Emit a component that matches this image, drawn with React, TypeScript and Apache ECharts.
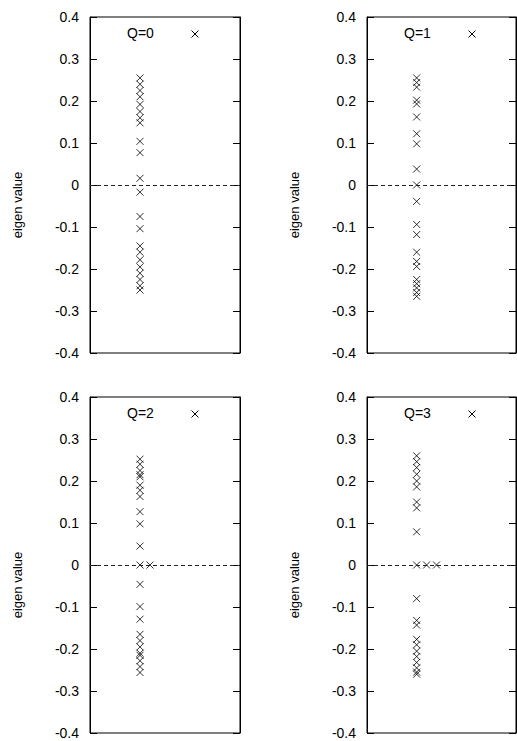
import React, { useEffect, useRef } from "react";
import * as echarts from "echarts";

// Eigenvalue spectra for each charge sector Q; [x, eigenvalue] pairs.
// Degenerate zero modes are spread sideways so each one stays visible.
const q0Points: [number, number][] = [
  [1, 0.255], [1, 0.24], [1, 0.225], [1, 0.21], [1, 0.192], [1, 0.175], [1, 0.16], [1, 0.148],
  [1, 0.104], [1, 0.077], [1, 0.016], [1, -0.017], [1, -0.075], [1, -0.104],
  [1, -0.145], [1, -0.16], [1, -0.178], [1, -0.195], [1, -0.21], [1, -0.225], [1, -0.24], [1, -0.25],
];
const q1Points: [number, number][] = [
  [1, 0.255], [1, 0.244], [1, 0.233], [1, 0.202], [1, 0.193], [1, 0.162], [1, 0.122], [1, 0.098],
  [1, 0.038], [1, 0], [1, -0.039], [1, -0.094], [1, -0.118], [1, -0.16], [1, -0.182], [1, -0.194],
  [1, -0.225], [1, -0.235], [1, -0.245], [1, -0.256], [1, -0.265],
];
const q2Points: [number, number][] = [
  [1, 0.252], [1, 0.24], [1, 0.225], [1, 0.215], [1, 0.21], [1, 0.19], [1, 0.178], [1, 0.163],
  [1, 0.127], [1, 0.098], [1, 0.045], [1, 0], [1.2, 0], [1, -0.046], [1, -0.099], [1, -0.129],
  [1, -0.165], [1, -0.18], [1, -0.195], [1, -0.21], [1, -0.215], [1, -0.228], [1, -0.242], [1, -0.256],
];
const q3Points: [number, number][] = [
  [1, 0.26], [1, 0.246], [1, 0.232], [1, 0.216], [1, 0.2], [1, 0.186],
  [1, 0.15], [1, 0.136], [1, 0.079], [1, 0], [1.2, 0], [1.4, 0], [1, -0.08],
  [1, -0.132], [1, -0.143], [1, -0.177], [1, -0.19], [1, -0.205], [1, -0.218], [1, -0.232],
  [1, -0.245], [1, -0.255], [1, -0.26],
];

const sectorNames = ["Q=0", "Q=1", "Q=2", "Q=3"];
const sectorData = [q0Points, q1Points, q2Points, q3Points];
const yTicks = { min: -0.4, max: 0.4, interval: 0.1 };

const FONT = "Liberation Sans, Arial, Helvetica, sans-serif";
const CROSS = "path://M0,0L10,10M10,0L0,10";

// Plot boxes in page pixels: [left, top]
const boxes: [number, number][] = [
  [90, 17],
  [367, 17],
  [90, 397],
  [367, 397],
];
const BOX_W = 150;
const BOX_H = 336;

export default function App() {
  const ref = useRef<HTMLDivElement>(null);

  useEffect(() => {
    if (!ref.current) return;
    const chart = echarts.init(ref.current, undefined, { renderer: "svg" });

    const grid = boxes.map(([l, t], i) => ({
      left: l,
      top: t,
      width: i % 2 === 1 ? BOX_W - 1 : BOX_W,
      height: BOX_H,
      show: true,
      borderColor: "#000",
      borderWidth: 1,
      backgroundColor: "transparent",
    }));

    const xAxis = boxes.map((_, i) => ({
      type: "value",
      gridIndex: i,
      min: 0,
      max: 3,
      axisLine: { show: false },
      axisTick: { show: false },
      axisLabel: { show: false },
      splitLine: { show: false },
    }));

    const yAxis: any[] = [];
    boxes.forEach((_, i) => {
      yAxis.push({
        type: "value",
        gridIndex: i,
        position: "left",
        ...yTicks,
        name: "eigen value",
        nameLocation: "middle",
        nameGap: 66,
        nameTextStyle: {
          fontFamily: FONT,
          fontSize: 13,
          color: "#000",
          padding: [0, 40, 0, 0],
        },
        axisLine: { show: true, lineStyle: { color: "#000", width: 1 } },
        axisTick: { show: true, inside: true, length: 7, lineStyle: { color: "#000" } },
        axisLabel: {
          show: true,
          margin: 11,
          fontFamily: FONT,
          fontSize: 14,
          color: "#000",
        },
        splitLine: { show: false },
      });
      yAxis.push({
        type: "value",
        gridIndex: i,
        position: "right",
        ...yTicks,
        axisLine: { show: true, lineStyle: { color: "#000", width: 1 } },
        axisTick: { show: true, inside: true, length: 7, lineStyle: { color: "#000" } },
        axisLabel: { show: false },
        splitLine: { show: false },
      });
    });

    const series = sectorData.map((pts, i) => ({
      name: sectorNames[i],
      type: "scatter",
      xAxisIndex: i,
      yAxisIndex: i * 2,
      data: pts,
      symbol: CROSS,
      symbolSize: 7,
      itemStyle: { color: "transparent", borderColor: "#000", borderWidth: 1 },
      silent: true,
      markLine: {
        silent: true,
        symbol: "none",
        label: { show: false },
        lineStyle: { color: "#222", type: [4, 3], width: 1 },
        data: [{ yAxis: 0 }],
      },
    }));

    // Key for each plot: title text followed by the cross marker
    const graphic: any[] = [];
    boxes.forEach(([l, t], i) => {
      const cy = t + 17;
      graphic.push({
        type: "text",
        left: l + 53 - 16,
        top: cy - 8,
        style: {
          text: sectorNames[i],
          fontFamily: FONT,
          fontSize: 14,
          fill: "#000",
        },
      });
      const cx = l + 105;
      graphic.push({
        type: "line",
        shape: { x1: cx - 3.5, y1: cy - 3.5, x2: cx + 3.5, y2: cy + 3.5 },
        style: { stroke: "#000", lineWidth: 1 },
      });
      graphic.push({
        type: "line",
        shape: { x1: cx + 3.5, y1: cy - 3.5, x2: cx - 3.5, y2: cy + 3.5 },
        style: { stroke: "#000", lineWidth: 1 },
      });
    });

    chart.setOption({
      animation: false,
      backgroundColor: "#fff",
      grid,
      xAxis,
      yAxis,
      series,
      graphic,
    });

    return () => chart.dispose();
  }, []);

  return (
    <div
      ref={ref}
      style={{ position: "fixed", left: 0, top: 0, width: 517, height: 741 }}
    />
  );
}
